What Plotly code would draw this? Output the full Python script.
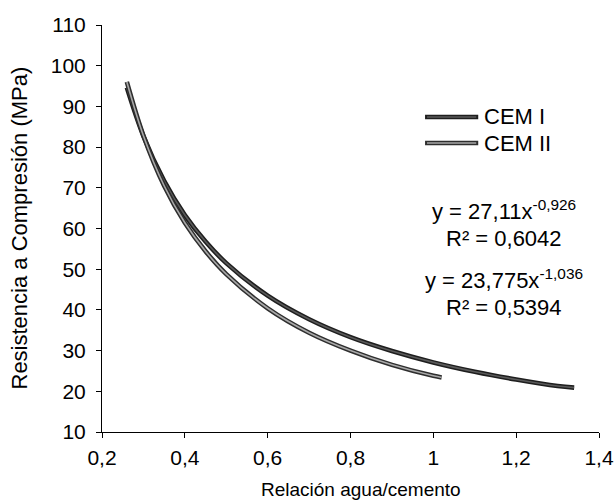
import plotly.graph_objects as go

# Values
x_cem1 = [0.26, 0.30, 0.35, 0.40, 0.45, 0.50, 0.60, 0.70, 0.80, 0.90, 1.00, 1.10, 1.20, 1.30, 1.34]
y_cem1 = [94.6, 82.7, 71.7, 63.3, 56.8, 51.5, 43.5, 37.7, 33.3, 29.9, 27.1, 24.8, 22.9, 21.3, 20.9]

x_cem2 = [0.26, 0.30, 0.35, 0.40, 0.45, 0.50, 0.60, 0.70, 0.80, 0.90, 1.00, 1.02]
y_cem2 = [96.0, 82.8, 70.5, 61.4, 54.4, 48.8, 40.4, 34.4, 30.0, 26.5, 23.8, 23.4]

x_ticks = [0.2, 0.4, 0.6, 0.8, 1.0, 1.2, 1.4]
y_ticks = [10, 20, 30, 40, 50, 60, 70, 80, 90, 100, 110]

series_names = ["CEM I", "CEM II"]
eq_lines = ["y = 27,11x<sup>-0,926</sup>", "R² = 0,6042",
            "y = 23,775x<sup>-1,036</sup>", "R² = 0,5394"]
x_title = "Relación agua/cemento"
y_title = "Resistencia a Compresión (MPa)"

outline = ["#1e1e1e", "#2e2e2e"]
core = ["#5a5a5a", "#a8a8a8"]

fig = go.Figure()
for i, (xs, ys) in enumerate([(x_cem1, y_cem1), (x_cem2, y_cem2)]):
    fig.add_trace(go.Scatter(x=xs, y=ys, mode="lines", name=series_names[i],
                             line=dict(color=outline[i], width=4.6, shape="spline"),
                             showlegend=False, hoverinfo="skip"))
    fig.add_trace(go.Scatter(x=xs, y=ys, mode="lines", name=series_names[i],
                             line=dict(color=core[i], width=1.6, shape="spline"),
                             showlegend=False))

font = "Liberation Sans, Arial, sans-serif"

# legend drawn as layout decoration (keys in paper coordinates)
shapes = []
annotations = []
leg_y = [0.774, 0.710]
for i, name in enumerate(series_names):
    shapes.append(dict(type="line", xref="paper", yref="paper", x0=0.650, x1=0.757,
                       y0=leg_y[i], y1=leg_y[i], line=dict(color=outline[i], width=4.6)))
    shapes.append(dict(type="line", xref="paper", yref="paper", x0=0.654, x1=0.753,
                       y0=leg_y[i], y1=leg_y[i], line=dict(color=core[i], width=1.6)))
    annotations.append(dict(x=0.765, y=leg_y[i], xref="paper", yref="paper", text=name,
                            showarrow=False, xanchor="left", yanchor="middle",
                            font=dict(size=22, family=font)))

# equation text lines, centred under each other
eq_y = [64.6, 57.5, 47.6, 40.5]
for txt, yy in zip(eq_lines, eq_y):
    annotations.append(dict(x=1.171, y=yy, xref="x", yref="y", text=txt, showarrow=False,
                            xanchor="center", yanchor="middle",
                            font=dict(size=22, family=font)))

annotations += [
    dict(x=0.521, y=-0.1425, xref="paper", yref="paper", text=x_title, showarrow=False,
         xanchor="center", yanchor="middle", font=dict(size=19, family=font)),
    dict(x=-0.167, y=0.50, xref="paper", yref="paper", text=y_title, showarrow=False,
         textangle=-90, xanchor="center", yanchor="middle", font=dict(size=22, family=font)),
]

fig.update_layout(
    width=615, height=502,
    margin=dict(l=102, r=16, t=25, b=70, autoexpand=False),
    paper_bgcolor="white", plot_bgcolor="white",
    separators=",.",
    font=dict(family=font, size=21, color="black"),
    showlegend=False,
    shapes=shapes,
    annotations=annotations,
    xaxis=dict(range=[0.2, 1.4], tickvals=x_ticks,
               showgrid=False, zeroline=False, showline=True, linecolor="black",
               linewidth=1, ticks="outside", ticklen=5, tickcolor="black",
               tickfont=dict(size=21), automargin=False, ticklabelstandoff=2),
    yaxis=dict(range=[10, 110], tickvals=y_ticks,
               showgrid=False, zeroline=False, showline=True, linecolor="black",
               linewidth=1, ticks="outside", ticklen=5, tickcolor="black",
               tickfont=dict(size=21), automargin=False, ticklabelstandoff=6),
)
# remove the default page margin so the figure sits at the window's corner
fig.write_html("out.html", config={"displayModeBar": False},
               post_script="document.body.style.margin='0';document.body.style.overflow='hidden';")
